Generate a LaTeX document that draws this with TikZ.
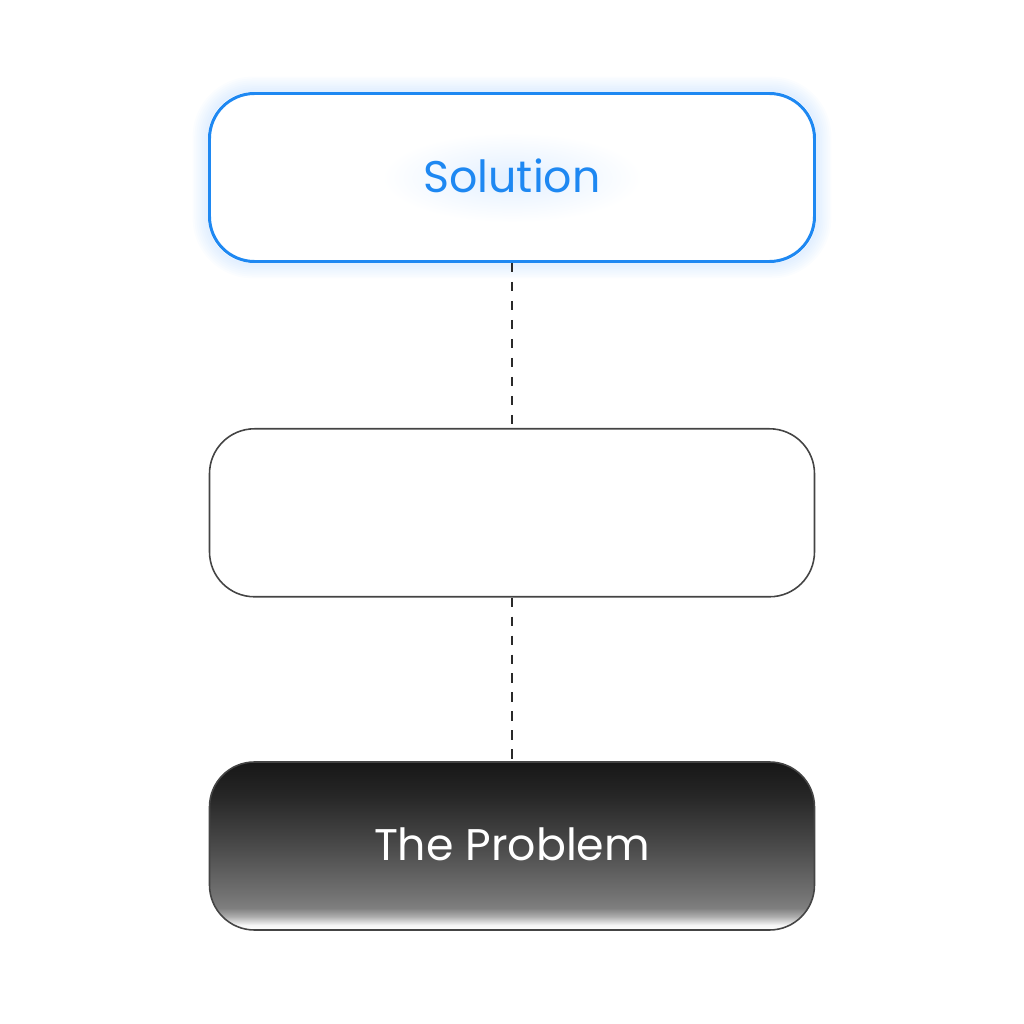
\documentclass[tikz,border=0pt]{standalone}
\usepackage{fontspec}
\setmainfont{Poppins}
\usetikzlibrary{positioning,backgrounds}
\definecolor{solblue}{HTML}{1E88F2}
\definecolor{glowblue}{HTML}{8EC2FF}
\definecolor{edgegray}{HTML}{444444}
\definecolor{dashgray}{HTML}{2A2A2A}
\pgfdeclareverticalshading{problemfill}{100bp}{color(0bp)=(white); color(25bp)=(white); color(26.5bp)=(black!4); color(29bp)=(black!32); color(31.5bp)=(black!50); color(36bp)=(black!56); color(50bp)=(black!71); color(65bp)=(black!85); color(75bp)=(black!91); color(100bp)=(black!91)}

\begin{document}
\begin{tikzpicture}[
	box/.style={draw=edgegray, line width=0.45pt, rounded corners=0.45cm,
		minimum width=6.05cm, minimum height=1.68cm, inner sep=0pt,
		font=\fontsize{12.6}{15}\selectfont},
	link/.style={draw=dashgray, line width=0.7pt, dash pattern=on 2.6pt off 2.8pt},
	node distance=1.65cm]
	\useasboundingbox (0,0) rectangle (10.24,10.24);
	% blocks
	\node[box, draw=solblue, line width=0.85pt, text=solblue] (solution) at (5.12,8.465) {\raisebox{1pt}{Solution}};
	\node[box, below=of solution] (middle) {};
	\node[box, shading=problemfill, text=white] (problem) at (5.12,1.78) {\raisebox{1pt}{The Problem}};
	% glow
	\begin{scope}[on background layer]
		\foreach \w in {1,...,8}
			\draw[glowblue, line width=\w*1.1pt, opacity=0.035, rounded corners=0.45cm]
			(solution.south west) rectangle (solution.north east);
		\fill[white, rounded corners=0.45cm] (solution.south west) rectangle (solution.north east);
		\shade[inner color=glowblue!25, outer color=white] (solution.center) ellipse (1.3cm and 0.45cm);
	\end{scope}
	% links
	\draw[link] (solution) -- (middle);
	\draw[link] (middle) -- (problem);
\end{tikzpicture}
\end{document}
